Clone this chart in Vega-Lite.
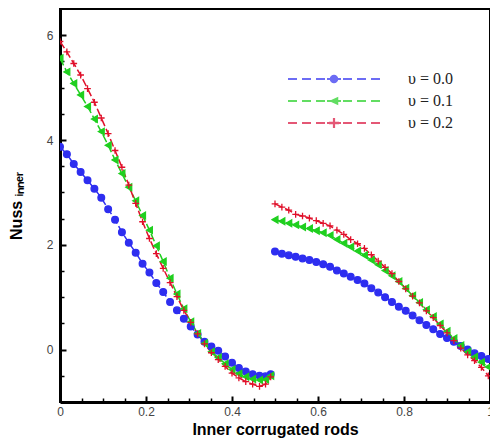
{
  "$schema": "https://vega.github.io/schema/vega-lite/v6.json",
  "width": 430,
  "height": 393,
  "autosize": {"type": "none"},
  "padding": {"left": 60, "top": 9, "right": 0, "bottom": 42},
  "background": "white",
  "config": {
    "view": {"stroke": "black", "strokeWidth": 2},
    "font": "Liberation Sans",
    "axis": {"grid": false, "labelFlush": false, "labelOverlap": false, "labelBound": false}
  },
  "data": {
    "values": [
      {"s": "υ = 0.0", "g": 1, "x": 0, "y": 3.87}, {"s": "υ = 0.0", "g": 1, "x": 0.016, "y": 3.73}, {"s": "υ = 0.0", "g": 1, "x": 0.032, "y": 3.54}, {"s": "υ = 0.0", "g": 1, "x": 0.048, "y": 3.39},
      {"s": "υ = 0.0", "g": 1, "x": 0.064, "y": 3.23}, {"s": "υ = 0.0", "g": 1, "x": 0.08, "y": 3.07}, {"s": "υ = 0.0", "g": 1, "x": 0.096, "y": 2.9}, {"s": "υ = 0.0", "g": 1, "x": 0.112, "y": 2.68},
      {"s": "υ = 0.0", "g": 1, "x": 0.128, "y": 2.48}, {"s": "υ = 0.0", "g": 1, "x": 0.144, "y": 2.24}, {"s": "υ = 0.0", "g": 1, "x": 0.16, "y": 2.04}, {"s": "υ = 0.0", "g": 1, "x": 0.176, "y": 1.85},
      {"s": "υ = 0.0", "g": 1, "x": 0.192, "y": 1.64}, {"s": "υ = 0.0", "g": 1, "x": 0.208, "y": 1.47}, {"s": "υ = 0.0", "g": 1, "x": 0.224, "y": 1.27}, {"s": "υ = 0.0", "g": 1, "x": 0.24, "y": 1.1},
      {"s": "υ = 0.0", "g": 1, "x": 0.256, "y": 0.91}, {"s": "υ = 0.0", "g": 1, "x": 0.272, "y": 0.75}, {"s": "υ = 0.0", "g": 1, "x": 0.288, "y": 0.59}, {"s": "υ = 0.0", "g": 1, "x": 0.304, "y": 0.44},
      {"s": "υ = 0.0", "g": 1, "x": 0.32, "y": 0.29}, {"s": "υ = 0.0", "g": 1, "x": 0.336, "y": 0.15}, {"s": "υ = 0.0", "g": 1, "x": 0.352, "y": 0.06}, {"s": "υ = 0.0", "g": 1, "x": 0.368, "y": -0.02},
      {"s": "υ = 0.0", "g": 1, "x": 0.384, "y": -0.13}, {"s": "υ = 0.0", "g": 1, "x": 0.4, "y": -0.25}, {"s": "υ = 0.0", "g": 1, "x": 0.416, "y": -0.35}, {"s": "υ = 0.0", "g": 1, "x": 0.432, "y": -0.42},
      {"s": "υ = 0.0", "g": 1, "x": 0.448, "y": -0.47}, {"s": "υ = 0.0", "g": 1, "x": 0.464, "y": -0.5}, {"s": "υ = 0.0", "g": 1, "x": 0.478, "y": -0.51}, {"s": "υ = 0.0", "g": 1, "x": 0.49, "y": -0.47},

      {"s": "υ = 0.0", "g": 2, "x": 0.5, "y": 1.87}, {"s": "υ = 0.0", "g": 2, "x": 0.516, "y": 1.83}, {"s": "υ = 0.0", "g": 2, "x": 0.532, "y": 1.8}, {"s": "υ = 0.0", "g": 2, "x": 0.548, "y": 1.77},
      {"s": "υ = 0.0", "g": 2, "x": 0.564, "y": 1.74}, {"s": "υ = 0.0", "g": 2, "x": 0.58, "y": 1.71}, {"s": "υ = 0.0", "g": 2, "x": 0.596, "y": 1.67}, {"s": "υ = 0.0", "g": 2, "x": 0.612, "y": 1.63},
      {"s": "υ = 0.0", "g": 2, "x": 0.628, "y": 1.58}, {"s": "υ = 0.0", "g": 2, "x": 0.644, "y": 1.51}, {"s": "υ = 0.0", "g": 2, "x": 0.66, "y": 1.45}, {"s": "υ = 0.0", "g": 2, "x": 0.676, "y": 1.39},
      {"s": "υ = 0.0", "g": 2, "x": 0.692, "y": 1.33}, {"s": "υ = 0.0", "g": 2, "x": 0.708, "y": 1.26}, {"s": "υ = 0.0", "g": 2, "x": 0.724, "y": 1.17}, {"s": "υ = 0.0", "g": 2, "x": 0.74, "y": 1.09},
      {"s": "υ = 0.0", "g": 2, "x": 0.756, "y": 1.0}, {"s": "υ = 0.0", "g": 2, "x": 0.772, "y": 0.91}, {"s": "υ = 0.0", "g": 2, "x": 0.788, "y": 0.82}, {"s": "υ = 0.0", "g": 2, "x": 0.804, "y": 0.74},
      {"s": "υ = 0.0", "g": 2, "x": 0.82, "y": 0.65}, {"s": "υ = 0.0", "g": 2, "x": 0.836, "y": 0.56}, {"s": "υ = 0.0", "g": 2, "x": 0.852, "y": 0.47}, {"s": "υ = 0.0", "g": 2, "x": 0.868, "y": 0.39},
      {"s": "υ = 0.0", "g": 2, "x": 0.884, "y": 0.3}, {"s": "υ = 0.0", "g": 2, "x": 0.9, "y": 0.22}, {"s": "υ = 0.0", "g": 2, "x": 0.916, "y": 0.15}, {"s": "υ = 0.0", "g": 2, "x": 0.932, "y": 0.07},
      {"s": "υ = 0.0", "g": 2, "x": 0.948, "y": 0.0}, {"s": "υ = 0.0", "g": 2, "x": 0.964, "y": -0.07}, {"s": "υ = 0.0", "g": 2, "x": 0.98, "y": -0.12}, {"s": "υ = 0.0", "g": 2, "x": 0.996, "y": -0.18},

      {"s": "υ = 0.1", "g": 1, "x": 0, "y": 5.56}, {"s": "υ = 0.1", "g": 1, "x": 0.016, "y": 5.3}, {"s": "υ = 0.1", "g": 1, "x": 0.032, "y": 5.08}, {"s": "υ = 0.1", "g": 1, "x": 0.048, "y": 4.86},
      {"s": "υ = 0.1", "g": 1, "x": 0.064, "y": 4.64}, {"s": "υ = 0.1", "g": 1, "x": 0.08, "y": 4.4}, {"s": "υ = 0.1", "g": 1, "x": 0.096, "y": 4.16}, {"s": "υ = 0.1", "g": 1, "x": 0.112, "y": 3.9},
      {"s": "υ = 0.1", "g": 1, "x": 0.128, "y": 3.62}, {"s": "υ = 0.1", "g": 1, "x": 0.144, "y": 3.36}, {"s": "υ = 0.1", "g": 1, "x": 0.16, "y": 3.1}, {"s": "υ = 0.1", "g": 1, "x": 0.176, "y": 2.84},
      {"s": "υ = 0.1", "g": 1, "x": 0.192, "y": 2.56}, {"s": "υ = 0.1", "g": 1, "x": 0.208, "y": 2.28}, {"s": "υ = 0.1", "g": 1, "x": 0.224, "y": 1.98}, {"s": "υ = 0.1", "g": 1, "x": 0.24, "y": 1.68},
      {"s": "υ = 0.1", "g": 1, "x": 0.256, "y": 1.36}, {"s": "υ = 0.1", "g": 1, "x": 0.272, "y": 1.06}, {"s": "υ = 0.1", "g": 1, "x": 0.288, "y": 0.78}, {"s": "υ = 0.1", "g": 1, "x": 0.304, "y": 0.53},
      {"s": "υ = 0.1", "g": 1, "x": 0.32, "y": 0.31}, {"s": "υ = 0.1", "g": 1, "x": 0.336, "y": 0.12}, {"s": "υ = 0.1", "g": 1, "x": 0.352, "y": -0.04}, {"s": "υ = 0.1", "g": 1, "x": 0.368, "y": -0.15},
      {"s": "υ = 0.1", "g": 1, "x": 0.384, "y": -0.27}, {"s": "υ = 0.1", "g": 1, "x": 0.4, "y": -0.38}, {"s": "υ = 0.1", "g": 1, "x": 0.416, "y": -0.46}, {"s": "υ = 0.1", "g": 1, "x": 0.432, "y": -0.52},
      {"s": "υ = 0.1", "g": 1, "x": 0.448, "y": -0.56}, {"s": "υ = 0.1", "g": 1, "x": 0.464, "y": -0.58}, {"s": "υ = 0.1", "g": 1, "x": 0.478, "y": -0.57}, {"s": "υ = 0.1", "g": 1, "x": 0.49, "y": -0.5},

      {"s": "υ = 0.1", "g": 2, "x": 0.5, "y": 2.48}, {"s": "υ = 0.1", "g": 2, "x": 0.516, "y": 2.45}, {"s": "υ = 0.1", "g": 2, "x": 0.532, "y": 2.41}, {"s": "υ = 0.1", "g": 2, "x": 0.548, "y": 2.38},
      {"s": "υ = 0.1", "g": 2, "x": 0.564, "y": 2.34}, {"s": "υ = 0.1", "g": 2, "x": 0.58, "y": 2.31}, {"s": "υ = 0.1", "g": 2, "x": 0.596, "y": 2.27}, {"s": "υ = 0.1", "g": 2, "x": 0.612, "y": 2.23},
      {"s": "υ = 0.1", "g": 2, "x": 0.628, "y": 2.18}, {"s": "υ = 0.1", "g": 2, "x": 0.644, "y": 2.1}, {"s": "υ = 0.1", "g": 2, "x": 0.66, "y": 2.03}, {"s": "υ = 0.1", "g": 2, "x": 0.676, "y": 1.96},
      {"s": "υ = 0.1", "g": 2, "x": 0.692, "y": 1.88}, {"s": "υ = 0.1", "g": 2, "x": 0.708, "y": 1.8}, {"s": "υ = 0.1", "g": 2, "x": 0.724, "y": 1.71}, {"s": "υ = 0.1", "g": 2, "x": 0.74, "y": 1.62},
      {"s": "υ = 0.1", "g": 2, "x": 0.756, "y": 1.51}, {"s": "υ = 0.1", "g": 2, "x": 0.772, "y": 1.41}, {"s": "υ = 0.1", "g": 2, "x": 0.788, "y": 1.3}, {"s": "υ = 0.1", "g": 2, "x": 0.804, "y": 1.17},
      {"s": "υ = 0.1", "g": 2, "x": 0.82, "y": 1.03}, {"s": "υ = 0.1", "g": 2, "x": 0.836, "y": 0.9}, {"s": "υ = 0.1", "g": 2, "x": 0.852, "y": 0.76}, {"s": "υ = 0.1", "g": 2, "x": 0.868, "y": 0.63},
      {"s": "υ = 0.1", "g": 2, "x": 0.884, "y": 0.49}, {"s": "υ = 0.1", "g": 2, "x": 0.9, "y": 0.35}, {"s": "υ = 0.1", "g": 2, "x": 0.916, "y": 0.21}, {"s": "υ = 0.1", "g": 2, "x": 0.932, "y": 0.08},
      {"s": "υ = 0.1", "g": 2, "x": 0.948, "y": -0.04}, {"s": "υ = 0.1", "g": 2, "x": 0.964, "y": -0.14}, {"s": "υ = 0.1", "g": 2, "x": 0.98, "y": -0.24}, {"s": "υ = 0.1", "g": 2, "x": 0.996, "y": -0.33},

      {"s": "υ = 0.2", "g": 1, "x": 0, "y": 5.88}, {"s": "υ = 0.2", "g": 1, "x": 0.016, "y": 5.68}, {"s": "υ = 0.2", "g": 1, "x": 0.032, "y": 5.46}, {"s": "υ = 0.2", "g": 1, "x": 0.048, "y": 5.24},
      {"s": "υ = 0.2", "g": 1, "x": 0.064, "y": 4.98}, {"s": "υ = 0.2", "g": 1, "x": 0.08, "y": 4.72}, {"s": "υ = 0.2", "g": 1, "x": 0.096, "y": 4.42}, {"s": "υ = 0.2", "g": 1, "x": 0.112, "y": 4.12},
      {"s": "υ = 0.2", "g": 1, "x": 0.128, "y": 3.8}, {"s": "υ = 0.2", "g": 1, "x": 0.144, "y": 3.48}, {"s": "υ = 0.2", "g": 1, "x": 0.16, "y": 3.14}, {"s": "υ = 0.2", "g": 1, "x": 0.176, "y": 2.79},
      {"s": "υ = 0.2", "g": 1, "x": 0.192, "y": 2.44}, {"s": "υ = 0.2", "g": 1, "x": 0.208, "y": 2.12}, {"s": "υ = 0.2", "g": 1, "x": 0.224, "y": 1.83}, {"s": "υ = 0.2", "g": 1, "x": 0.24, "y": 1.55},
      {"s": "υ = 0.2", "g": 1, "x": 0.256, "y": 1.28}, {"s": "υ = 0.2", "g": 1, "x": 0.272, "y": 1.01}, {"s": "υ = 0.2", "g": 1, "x": 0.288, "y": 0.75}, {"s": "υ = 0.2", "g": 1, "x": 0.304, "y": 0.52},
      {"s": "υ = 0.2", "g": 1, "x": 0.32, "y": 0.3}, {"s": "υ = 0.2", "g": 1, "x": 0.336, "y": 0.11}, {"s": "υ = 0.2", "g": 1, "x": 0.352, "y": -0.06}, {"s": "υ = 0.2", "g": 1, "x": 0.368, "y": -0.19},
      {"s": "υ = 0.2", "g": 1, "x": 0.384, "y": -0.32}, {"s": "υ = 0.2", "g": 1, "x": 0.4, "y": -0.45}, {"s": "υ = 0.2", "g": 1, "x": 0.416, "y": -0.54}, {"s": "υ = 0.2", "g": 1, "x": 0.432, "y": -0.61},
      {"s": "υ = 0.2", "g": 1, "x": 0.448, "y": -0.66}, {"s": "υ = 0.2", "g": 1, "x": 0.464, "y": -0.7}, {"s": "υ = 0.2", "g": 1, "x": 0.478, "y": -0.66}, {"s": "υ = 0.2", "g": 1, "x": 0.49, "y": -0.52},

      {"s": "υ = 0.2", "g": 2, "x": 0.5, "y": 2.78}, {"s": "υ = 0.2", "g": 2, "x": 0.516, "y": 2.72}, {"s": "υ = 0.2", "g": 2, "x": 0.532, "y": 2.66}, {"s": "υ = 0.2", "g": 2, "x": 0.548, "y": 2.58},
      {"s": "υ = 0.2", "g": 2, "x": 0.564, "y": 2.55}, {"s": "υ = 0.2", "g": 2, "x": 0.58, "y": 2.51}, {"s": "υ = 0.2", "g": 2, "x": 0.596, "y": 2.46}, {"s": "υ = 0.2", "g": 2, "x": 0.612, "y": 2.41},
      {"s": "υ = 0.2", "g": 2, "x": 0.628, "y": 2.36}, {"s": "υ = 0.2", "g": 2, "x": 0.644, "y": 2.28}, {"s": "υ = 0.2", "g": 2, "x": 0.66, "y": 2.2}, {"s": "υ = 0.2", "g": 2, "x": 0.676, "y": 2.1},
      {"s": "υ = 0.2", "g": 2, "x": 0.692, "y": 2.02}, {"s": "υ = 0.2", "g": 2, "x": 0.708, "y": 1.93}, {"s": "υ = 0.2", "g": 2, "x": 0.724, "y": 1.81}, {"s": "υ = 0.2", "g": 2, "x": 0.74, "y": 1.69},
      {"s": "υ = 0.2", "g": 2, "x": 0.756, "y": 1.57}, {"s": "υ = 0.2", "g": 2, "x": 0.772, "y": 1.45}, {"s": "υ = 0.2", "g": 2, "x": 0.788, "y": 1.3}, {"s": "υ = 0.2", "g": 2, "x": 0.804, "y": 1.16},
      {"s": "υ = 0.2", "g": 2, "x": 0.82, "y": 1.02}, {"s": "υ = 0.2", "g": 2, "x": 0.836, "y": 0.89}, {"s": "υ = 0.2", "g": 2, "x": 0.852, "y": 0.74}, {"s": "υ = 0.2", "g": 2, "x": 0.868, "y": 0.61},
      {"s": "υ = 0.2", "g": 2, "x": 0.884, "y": 0.46}, {"s": "υ = 0.2", "g": 2, "x": 0.9, "y": 0.32}, {"s": "υ = 0.2", "g": 2, "x": 0.916, "y": 0.17}, {"s": "υ = 0.2", "g": 2, "x": 0.932, "y": 0.03},
      {"s": "υ = 0.2", "g": 2, "x": 0.948, "y": -0.1}, {"s": "υ = 0.2", "g": 2, "x": 0.964, "y": -0.21}, {"s": "υ = 0.2", "g": 2, "x": 0.98, "y": -0.34}, {"s": "υ = 0.2", "g": 2, "x": 0.996, "y": -0.5}
    ]
  },
  "resolve": {
    "axis": {"x": "independent", "y": "independent"},
    "scale": {"color": "independent", "shape": "independent", "stroke": "independent"}
  },
  "layer": [
    {
      "mark": {"type": "line", "strokeWidth": 1.5, "strokeDash": [8, 3], "clip": true},
      "encoding": {
        "x": {
          "field": "x", "type": "quantitative",
          "scale": {"domain": [0, 1], "nice": false, "zero": false},
          "axis": {
            "orient": "bottom", "values": [0, 0.2, 0.4, 0.6, 0.8, 1], "format": ".1~f",
            "title": "Inner corrugated rods", "titleFontSize": 16, "titleFontWeight": "bold", "titleColor": "black", "titlePadding": 4,
            "domainColor": "black", "domainWidth": 3, "tickColor": "black", "tickWidth": 2, "tickSize": -6,
            "labelFontSize": 12, "labelColor": "#444", "labelPadding": 10
          }
        },
        "y": {
          "field": "y", "type": "quantitative",
          "scale": {"domain": [-1, 6.5], "nice": false, "zero": false},
          "axis": {
            "orient": "left", "values": [0, 2, 4, 6], "format": "d",
            "title": "Nuss ᵢₙₙₑᵣ", "titleFontSize": 16, "titleFontWeight": "bold", "titleColor": "black", "titlePadding": 22,
            "domainColor": "black", "domainWidth": 3, "tickColor": "black", "tickWidth": 2, "tickSize": -6,
            "labelFontSize": 12, "labelColor": "#444", "labelPadding": 13
          }
        },
        "color": {"field": "s", "type": "nominal", "scale": {"domain": ["υ = 0.0", "υ = 0.1", "υ = 0.2"], "range": ["#2e2ef0", "#1fcf1f", "#e0102a"]}, "legend": null},
        "detail": {"field": "g", "type": "nominal"}
      }
    },
    {
      "mark": {"type": "point", "filled": true, "size": 45, "opacity": 1, "strokeWidth": 1.3, "clip": true},
      "encoding": {
        "x": {
          "field": "x", "type": "quantitative",
          "axis": {
            "orient": "bottom", "values": [0.05, 0.1, 0.15, 0.25, 0.3, 0.35, 0.45, 0.5, 0.55, 0.65, 0.7, 0.75, 0.85, 0.9, 0.95],
            "labels": false, "domain": false, "title": null, "tickColor": "black", "tickWidth": 1.5, "tickSize": -4
          }
        },
        "y": {
          "field": "y", "type": "quantitative",
          "axis": {
            "orient": "left", "values": [-0.5, 0.5, 1, 1.5, 2.5, 3, 3.5, 4.5, 5, 5.5],
            "labels": false, "domain": false, "title": null, "tickColor": "black", "tickWidth": 1.5, "tickSize": -4
          }
        },
        "shape": {"field": "s", "type": "nominal", "scale": {"domain": ["υ = 0.0", "υ = 0.1", "υ = 0.2"], "range": ["circle", "triangle-left", "M-1,0H1M0,-1V1"]}, "legend": null},
        "stroke": {"field": "s", "type": "nominal", "scale": {"domain": ["υ = 0.0", "υ = 0.1", "υ = 0.2"], "range": ["#2e2ef0", "#1fcf1f", "#e0102a"]}, "legend": null},
        "color": {"field": "s", "type": "nominal", "scale": {"domain": ["υ = 0.0", "υ = 0.1", "υ = 0.2"], "range": ["#2e2ef0", "#1fcf1f", "#e0102a"]}, "legend": null}
      }
    },
    {
      "transform": [{"filter": "datum.x < 0"}],
      "mark": {"type": "point", "filled": true},
      "encoding": {
        "x": {"field": "x", "type": "quantitative", "axis": null},
        "y": {"field": "y", "type": "quantitative", "axis": null},
        "shape": {
          "field": "s", "type": "nominal",
          "scale": {
            "domain": ["υ = 0.0", "υ = 0.1", "υ = 0.2"],
            "range": [
              "M-9.2,-0.2H-7.4V0.2H-9.2ZM-6.4,-0.2H-4.6V0.2H-6.4ZM-3.6,-0.2H-1.8V0.2H-3.6ZM-1.4,-0.2H1.4V0.2H-1.4ZM1.8,-0.2H3.6V0.2H1.8ZM4.6,-0.2H6.4V0.2H4.6ZM7.4,-0.2H9.2V0.2H7.4ZM0.85,0A0.85,0.85,0,1,1,-0.85,0A0.85,0.85,0,1,1,0.85,0Z",
              "M-9.2,-0.2H-7.4V0.2H-9.2ZM-6.4,-0.2H-4.6V0.2H-6.4ZM-3.6,-0.2H-1.8V0.2H-3.6ZM-1.4,-0.2H1.4V0.2H-1.4ZM1.8,-0.2H3.6V0.2H1.8ZM4.6,-0.2H6.4V0.2H4.6ZM7.4,-0.2H9.2V0.2H7.4ZM-1,0L0.85,-0.85L0.85,0.85Z",
              "M-9.2,-0.2H-7.4V0.2H-9.2ZM-6.4,-0.2H-4.6V0.2H-6.4ZM-3.6,-0.2H-1.8V0.2H-3.6ZM-1.4,-0.2H1.4V0.2H-1.4ZM1.8,-0.2H3.6V0.2H1.8ZM4.6,-0.2H6.4V0.2H4.6ZM7.4,-0.2H9.2V0.2H7.4ZM-0.22,-1H0.22V1H-0.22ZM-1,-0.25H1V0.25H-1Z"
            ]
          }
        },
        "color": {
          "field": "s", "type": "nominal",
          "scale": {"domain": ["υ = 0.0", "υ = 0.1", "υ = 0.2"], "range": ["#2e2ef0", "#1fcf1f", "#d8103a"]},
          "legend": {
            "title": null, "orient": "none", "legendX": 266, "legendY": 62,
            "symbolSize": 100, "labelOffset": 66, "rowPadding": 6, "padding": 0,
            "labelFont": "Liberation Serif", "labelFontSize": 16, "labelColor": "#222"
          }
        }
      }
    }
  ]
}
